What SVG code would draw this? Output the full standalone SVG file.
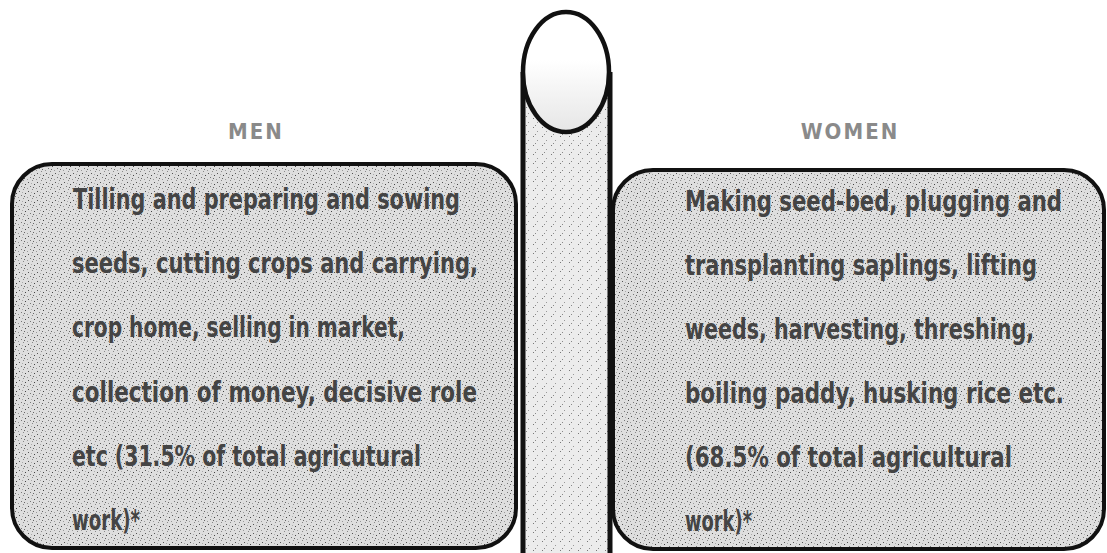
<svg xmlns="http://www.w3.org/2000/svg" width="1107" height="553" viewBox="0 0 1107 553">
<defs>
<pattern id="dots" width="9" height="9" patternUnits="userSpaceOnUse">
<rect width="9" height="9" fill="#dedede"/>
<rect x="1" y="2" width="1" height="1" fill="#555"/>
<rect x="5" y="0" width="1" height="1" fill="#888"/>
<rect x="7" y="4" width="1" height="1" fill="#444"/>
<rect x="3" y="6" width="1" height="1" fill="#777"/>
<rect x="0" y="8" width="1" height="1" fill="#999"/>
<rect x="6" y="7" width="1" height="1" fill="#666"/>
<rect x="4" y="3" width="1" height="1" fill="#aaa"/>
</pattern>
<pattern id="dotsl" width="9" height="9" patternUnits="userSpaceOnUse">
<rect width="9" height="9" fill="#ececec"/>
<rect x="2" y="1" width="1" height="1" fill="#777"/>
<rect x="6" y="5" width="1" height="1" fill="#999"/>
<rect x="4" y="8" width="1" height="1" fill="#888"/>
</pattern>
<linearGradient id="capg" x1="0" y1="0" x2="0" y2="1">
<stop offset="0" stop-color="#ffffff"/>
<stop offset="0.4" stop-color="#ffffff"/>
<stop offset="1" stop-color="#e6e6e6"/>
</linearGradient>
<style>
.box{fill:url(#dots);stroke:#111;stroke-width:4}
.tube{fill:url(#dotsl)}
.edge{stroke:#111;stroke-width:5;fill:none}
.t{font-family:"DejaVu Sans Condensed","DejaVu Sans","Liberation Sans",sans-serif;font-weight:bold;font-size:28px;fill:#444}
.h{font-family:"DejaVu Sans Condensed","DejaVu Sans","Liberation Sans",sans-serif;font-weight:bold;font-size:22px;fill:#8a8a8a;letter-spacing:2px;text-anchor:middle}
</style>
</defs>
<rect width="1107" height="553" fill="#ffffff"/>
<g id="pillar">
<rect class="tube" x="523" y="72" width="87" height="490"/>
<line class="edge" x1="523" y1="72" x2="523" y2="553"/>
<line class="edge" x1="610" y1="72" x2="610" y2="553"/>
<ellipse cx="566" cy="72" rx="43" ry="60" fill="url(#capg)" stroke="#111" stroke-width="4.5"/>
</g>
<g id="men">
<text class="h" x="256" y="139">MEN</text>
<path class="box" d="M52,164 H476 A40,40 0 0 1 516,204 V508 A40,40 0 0 1 476,548 H52 A40,40 0 0 1 12,508 V204 A40,40 0 0 1 52,164 Z"/>
<text class="t" x="73" y="209" textLength="387" lengthAdjust="spacingAndGlyphs">Tilling and preparing and sowing</text>
<text class="t" x="72" y="273" textLength="406" lengthAdjust="spacingAndGlyphs">seeds, cutting crops and carrying,</text>
<text class="t" x="72" y="337" textLength="333" lengthAdjust="spacingAndGlyphs">crop home, selling in market,</text>
<text class="t" x="72" y="402" textLength="405" lengthAdjust="spacingAndGlyphs">collection of money, decisive role</text>
<text class="t" x="72" y="466" textLength="349" lengthAdjust="spacingAndGlyphs">etc (31.5% of total agricutural</text>
<text class="t" x="72" y="530" textLength="68" lengthAdjust="spacingAndGlyphs">work)*</text>
</g>
<g id="women">
<text class="h" x="850" y="139">WOMEN</text>
<path class="box" d="M653,170 H1064 A40,40 0 0 1 1104,210 V509 A40,40 0 0 1 1064,549 H653 A40,40 0 0 1 613,509 V210 A40,40 0 0 1 653,170 Z"/>
<text class="t" x="685" y="211" textLength="377" lengthAdjust="spacingAndGlyphs">Making seed-bed, plugging and</text>
<text class="t" x="685" y="275" textLength="352" lengthAdjust="spacingAndGlyphs">transplanting saplings, lifting</text>
<text class="t" x="685" y="339" textLength="349" lengthAdjust="spacingAndGlyphs">weeds, harvesting, threshing,</text>
<text class="t" x="685" y="403" textLength="379" lengthAdjust="spacingAndGlyphs">boiling paddy, husking rice etc.</text>
<text class="t" x="685" y="467" textLength="327" lengthAdjust="spacingAndGlyphs">(68.5% of total agricultural</text>
<text class="t" x="685" y="531" textLength="67" lengthAdjust="spacingAndGlyphs">work)*</text>
</g>
<g id="connectors"/>
</svg>
